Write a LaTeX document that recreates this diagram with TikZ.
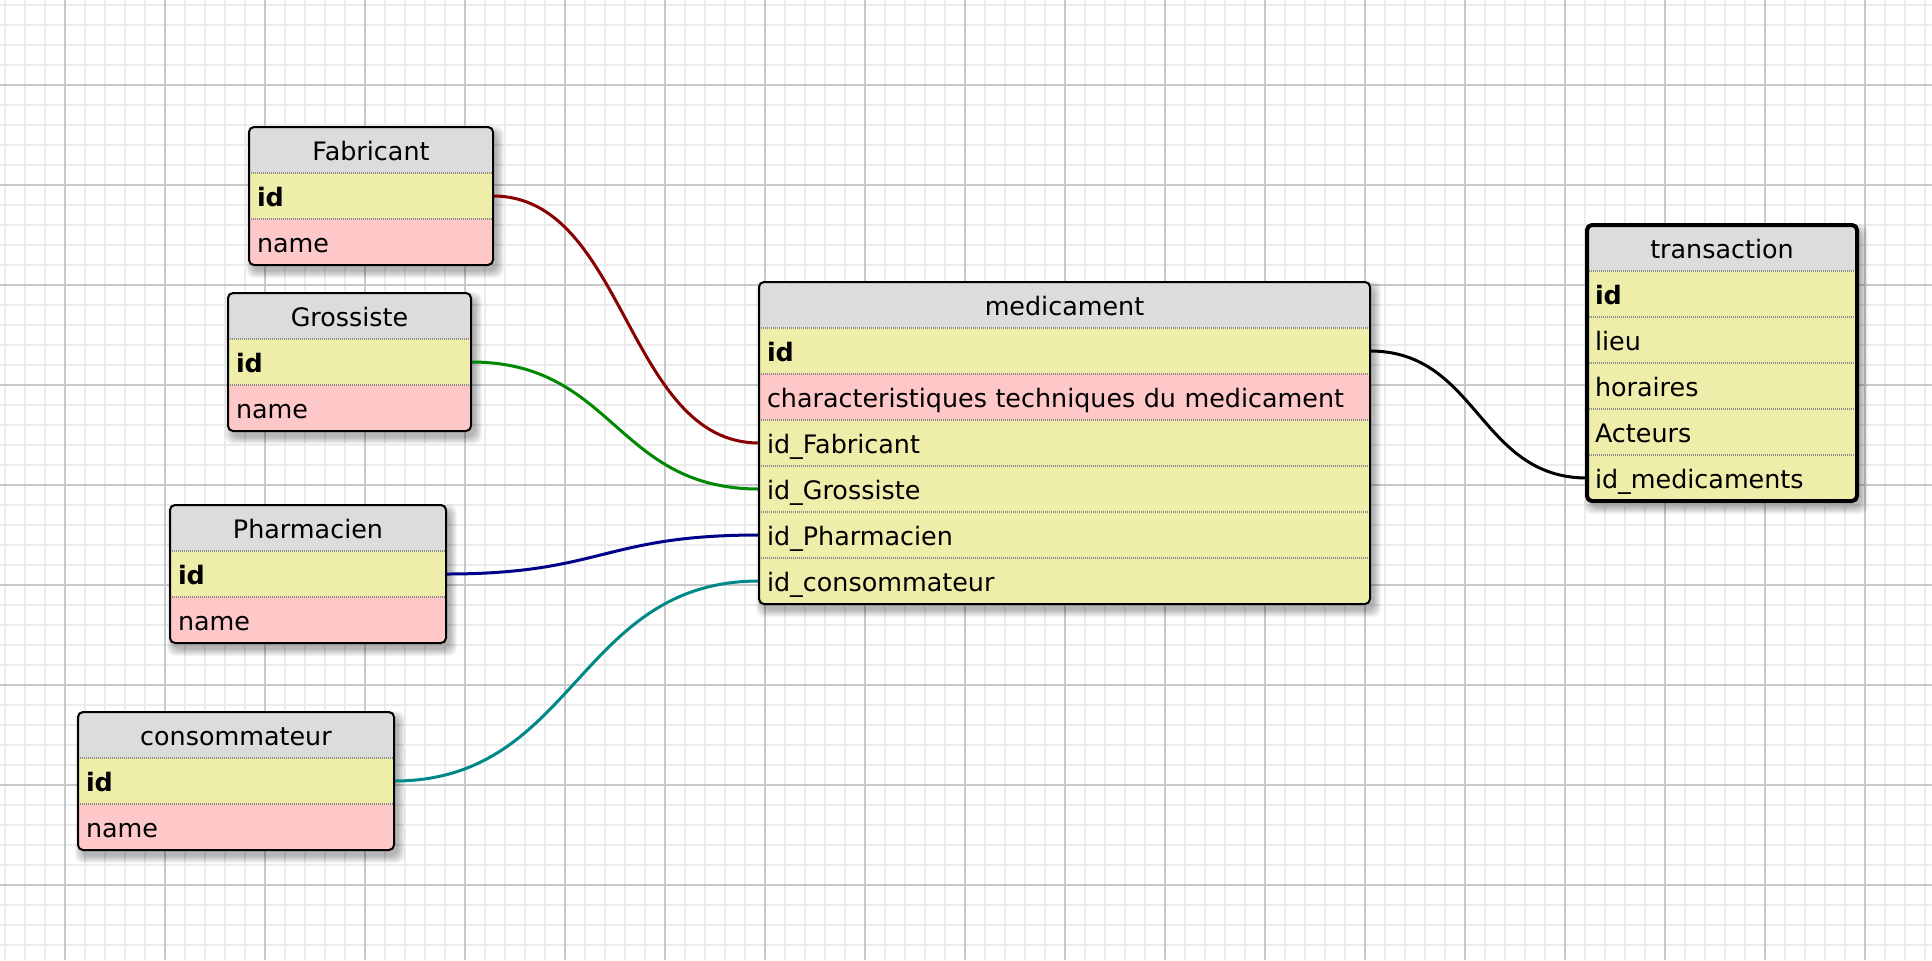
\documentclass[tikz,border=0pt]{standalone}
\usepackage{fontspec}
\setmainfont{DejaVu Sans}
\pgfdeclarelayer{back}
\pgfdeclarelayer{mid}
\pgfsetlayers{back,mid,main}
\definecolor{hdgray}{HTML}{DCDCDC}
\definecolor{keyyel}{HTML}{EEEEAA}
\definecolor{pinkc}{HTML}{FFC8C8}
\definecolor{gridminor}{HTML}{ECECEC}
\definecolor{gridmajor}{HTML}{C9C9C9}
\definecolor{sepgray}{HTML}{888888}
\definecolor{fkred}{HTML}{880000}
\definecolor{fkgreen}{HTML}{008800}
\definecolor{fkblue}{HTML}{000088}
\definecolor{fkteal}{HTML}{008888}
\tikzset{
  rowbase/.style={rectangle, anchor=north west, inner xsep=4pt, inner ysep=0pt, outer sep=0pt,
    minimum height=23pt, text height=11pt, text depth=1pt, font=\fontsize{12.7}{15}\selectfont},
  headr/.style={fill=hdgray, align=center},
  keyr/.style={fill=keyyel, align=left, font=\fontsize{12.7}{15}\selectfont\bfseries},
  plainr/.style={fill=keyyel, align=left},
  pinkr/.style={fill=pinkc, align=left},
  rowkind/.style={#1},
  sepline/.style={sepgray, line width=0.7pt, dash pattern=on 0.5pt off 0.5pt},
  tblborder/.style={draw=black, line width=1pt, rounded corners=2.5pt},
  fk/.style={line width=1.5pt},
  gridminorline/.style={gridminor, line width=1pt},
  gridmajorline/.style={gridmajor, line width=1pt},
}
\newcommand\dbtable[8]{%
  \pgfmathsetmacro\tbot{#3+46*(#5+1)}%
  \pgfmathsetmacro\tright{#2+#4}%
  \pgfmathsetmacro\tw{(#4-16)*0.5}%
  \begin{pgfonlayer}{back}
    \foreach \s in {0,...,7}{\fill[black,opacity=0.04,rounded corners=4pt] ({#2+4-\s},{#3+6-\s}) rectangle ({\tright+4+\s},{\tbot+6+\s});}
  \end{pgfonlayer}
  \begin{scope}
    \clip[rounded corners=2.5pt] (#2,#3) rectangle (\tright,\tbot);
    \node[rowbase, headr, text width=\tw pt] (#1-0) at (#2,#3) {#6};
    \foreach \rk/\rtext [count=\i] in {#7}{%
      \node[rowbase, rowkind/.expand once=\rk, text width=\tw pt] (#1-\i) at (#2,{#3+46*\i}) {\mbox{\rtext}};
      \draw[sepline] (#2,{#3+46*\i}) -- (\tright,{#3+46*\i});
    }
  \end{scope}
  \draw[tblborder,#8] (#2,#3) rectangle (\tright,\tbot);
}
\begin{document}
\begin{tikzpicture}[x=0.5pt,y=-0.5pt]
\useasboundingbox (0,0) rectangle (1932,960);
\begin{pgfonlayer}{back}
  \fill[white] (0,0) rectangle (1932,960);
  \foreach \gx in {5,25,...,1925} \draw[gridminorline] (\gx,0) -- (\gx,960);
  \foreach \gy in {5,25,...,945} \draw[gridminorline] (0,\gy) -- (1932,\gy);
  \foreach \gx in {65,165,...,1865} \draw[gridmajorline] (\gx,0) -- (\gx,960);
  \foreach \gy in {85,185,...,885} \draw[gridmajorline] (0,\gy) -- (1932,\gy);
\end{pgfonlayer}

\dbtable{fab}{249}{127}{244}{2}{Fabricant}{keyr/id, pinkr/name}{}
\dbtable{gro}{228}{293}{243}{2}{Grossiste}{keyr/id, pinkr/name}{}
\dbtable{pha}{170}{505}{276}{2}{Pharmacien}{keyr/id, pinkr/name}{}
\dbtable{con}{78}{712}{316}{2}{consommateur}{keyr/id, pinkr/name}{}
\dbtable{med}{759}{282}{611}{6}{medicament}{keyr/id, pinkr/characteristiques techniques du medicament, plainr/id\_Fabricant, plainr/id\_Grossiste, plainr/id\_Pharmacien, plainr/id\_consommateur}{}
\dbtable{tra}{1587}{225}{270}{5}{transaction}{keyr/id, plainr/lieu, plainr/horaires, plainr/Acteurs, plainr/id\_medicaments}{line width=2pt}

\begin{pgfonlayer}{mid}
  \draw[fk, fkred] (fab-1.east) .. controls +(133,0) and +(-133,0) .. (med-3.west);
  \draw[fk, fkgreen] (gro-1.east) .. controls +(144,0) and +(-144,0) .. (med-4.west);
  \draw[fk, fkblue] (pha-1.east) .. controls +(156,0) and +(-156,0) .. (med-5.west);
  \draw[fk, fkteal] (con-1.east) .. controls +(182,0) and +(-182,0) .. (med-6.west);
  \draw[fk, black] (med-1.east) .. controls +(108,0) and +(-108,0) .. (tra-5.west);
\end{pgfonlayer}
\end{tikzpicture}
\end{document}
